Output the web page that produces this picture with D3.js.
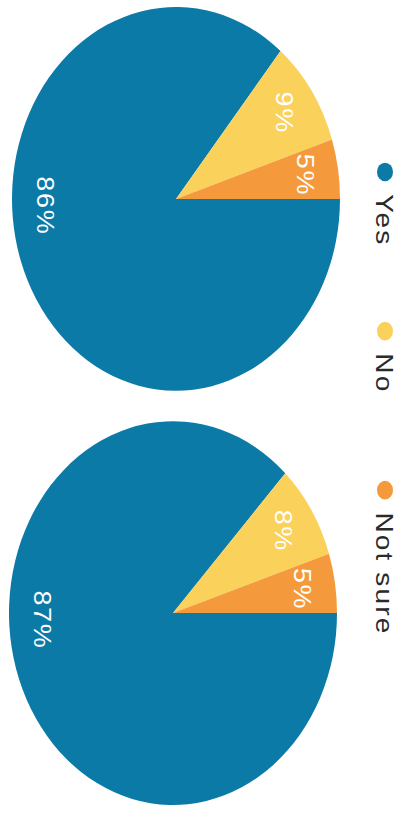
<!DOCTYPE html>
<html>
<head>
<meta charset="utf-8">
<script src="https://cdn.jsdelivr.net/npm/d3@7"></script>
<style>
  html, body { margin: 0; padding: 0; background: #ffffff; }
  svg { display: block; }
</style>
</head>
<body>
<svg id="chart" width="409" height="814"></svg>
<script>
// Survey answers, two groups
const categories = ["Yes", "No", "Not sure"];
const groupA = [86, 9, 5];
const groupB = [87, 8, 5];
const colors = ["#0c7aa7", "#f9d15b", "#f59a3c"];

const W = 409, H = 814;
const stretch = 1.17;   // horizontal stretch of the landscape layout
const radius = 164;

const svg = d3.select("#chart");

// The layout is landscape, turned a quarter turn clockwise onto the portrait page.
const root = svg.append("g")
  .attr("transform", `translate(${W},0) rotate(90) scale(${stretch},1)`);

const color = d3.scaleOrdinal().domain(categories).range(colors);

const pie = d3.pie().sort(null).value(d => d.value);
const arc = d3.arc().innerRadius(0).outerRadius(radius);
const labelArc = d3.arc().innerRadius(radius * 0.8).outerRadius(radius * 0.8);

function drawPie(values, cx, cy) {
  const data = categories.map((c, i) => ({ category: c, value: values[i] }));
  const arcs = pie(data);
  const g = root.append("g").attr("transform", `translate(${cx},${cy})`);

  g.selectAll("path")
    .data(arcs)
    .join("path")
    .attr("d", arc)
    .attr("fill", d => color(d.data.category));

  g.selectAll("text")
    .data(arcs)
    .join("text")
    .attr("transform", d => {
      let p;
      if (d.endAngle - d.startAngle > Math.PI) {
        // large slice: label sits near the bottom of the pie
        const a = Math.PI - 0.045;
        p = [Math.sin(a) * radius * 0.8, -Math.cos(a) * radius * 0.8];
      } else {
        p = labelArc.centroid(d);
      }
      return `translate(${p[0]},${p[1]})`;
    })
    .attr("text-anchor", "middle")
    .attr("dy", "0.36em")
    .attr("fill", "#ffffff")
    .attr("font-family", "Liberation Sans, Arial, sans-serif")
    .attr("font-size", 23)
    .attr("letter-spacing", 1.5)
    .text(d => d.data.value + "%");
}

drawPie(groupA, 170, 233);
drawPie(groupB, 524, 236);

// Legend across the top edge
const legendX = d3.scalePoint().domain(categories).range([147, 419]);
const legend = root.append("g");
const item = legend.selectAll("g")
  .data(categories)
  .join("g")
  .attr("transform", d => `translate(${legendX(d)},24)`);

item.append("circle")
  .attr("r", 8)
  .attr("fill", d => color(d));

item.append("text")
  .attr("x", 19)
  .attr("y", 9)
  .attr("fill", "#2a2a2a")
  .attr("font-family", "Liberation Sans, Arial, sans-serif")
  .attr("font-size", 24)
  .attr("letter-spacing", 1.8)
  .text(d => d);
</script>
</body>
</html>
